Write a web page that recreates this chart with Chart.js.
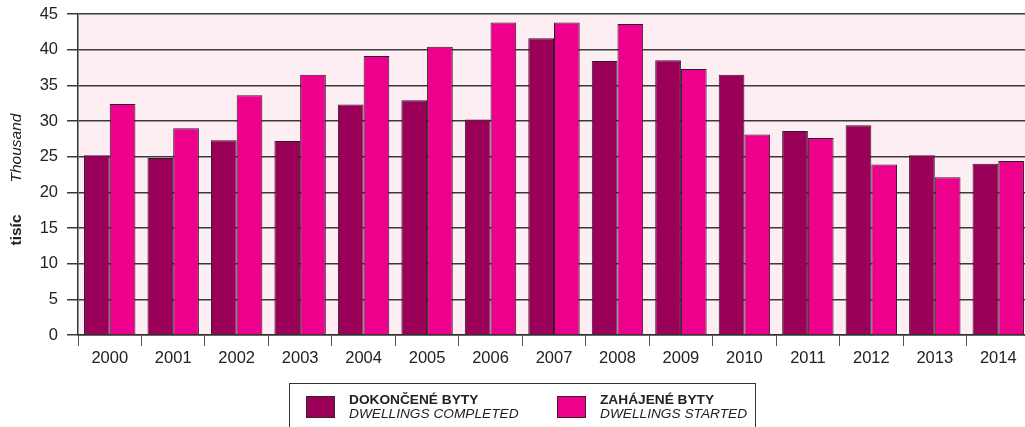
<!DOCTYPE html>
<html>
<head>
<meta charset="utf-8">
<script src="https://cdn.jsdelivr.net/npm/chart.js@4"></script>
<style>
    html, body { margin: 0; padding: 0; background: #fff; overflow: hidden; }
    #wrap { position: relative; width: 1030px; height: 427px; }
    #legend {
        position: absolute; left: 289px; top: 383px; width: 465px; height: 50px;
        border-left: 1.5px solid #333; border-top: 1.5px solid #333; border-right: 1.5px solid #333;
        font-family: "Liberation Sans", Arial, sans-serif; font-size: 13.7px; color: #222;
    }
    .item { position: absolute; top: 12px; }
    .sw { position: absolute; top: 0; width: 29px; height: 22px; border: 1px solid #3b2030; box-sizing: border-box; }
    .txt { position: absolute; left: 43px; top: -3px; white-space: nowrap; line-height: 14px; }
    .txt b { font-weight: bold; }
    .txt i { font-style: italic; }
</style>
</head>
<body>
<div id="wrap">
    <canvas id="myChart" width="1030" height="427"></canvas>
    <div id="legend"></div>
</div>
<script>
// data
var years = ['2000', '2001', '2002', '2003', '2004', '2005', '2006', '2007', '2008', '2009', '2010', '2011', '2012', '2013', '2014'];
var completed = [25.2, 24.8, 27.3, 27.2, 32.3, 32.9, 30.2, 41.6, 38.4, 38.5, 36.5, 28.6, 29.4, 25.2, 24.0];
var started = [32.4, 29.0, 33.6, 36.5, 39.1, 40.4, 43.8, 43.8, 43.6, 37.3, 28.1, 27.6, 23.9, 22.1, 24.4];
var seriesCz = ['DOKONČENÉ BYTY', 'ZAHÁJENÉ BYTY'];
var seriesEn = ['DWELLINGS COMPLETED', 'DWELLINGS STARTED'];
var seriesColors = ['#9b0058', '#ec008c'];
var yTicks = [0, 5, 10, 15, 20, 25, 30, 35, 40, 45];

var font = '"Liberation Sans", Arial, sans-serif';

// plot background + axis titles
const bgPlugin = {
    id: 'bgPlugin',
    beforeDraw(chart) {
        const ctx = chart.ctx;
        const a = chart.chartArea;
        ctx.save();
        ctx.fillStyle = '#fdeef4';
        ctx.fillRect(a.left, a.top, a.right - a.left, a.bottom - a.top);
        ctx.restore();
    },
    afterDraw(chart) {
        const ctx = chart.ctx;
        ctx.save();
        ctx.fillStyle = '#222';
        ctx.textAlign = 'center';
        ctx.textBaseline = 'middle';
        ctx.translate(17, 148);
        ctx.rotate(-Math.PI / 2);
        ctx.font = 'italic 15.5px ' + font;
        ctx.fillText('Thousand', 0, 0);
        ctx.restore();
        ctx.save();
        ctx.fillStyle = '#222';
        ctx.textAlign = 'center';
        ctx.textBaseline = 'middle';
        ctx.translate(17, 230);
        ctx.rotate(-Math.PI / 2);
        ctx.font = 'bold 15.5px ' + font;
        ctx.fillText('tisíc', 0, 0);
        ctx.restore();
    }
};

const ctx = document.getElementById('myChart').getContext('2d');
const myChart = new Chart(ctx, {
    type: 'bar',
    data: {
        labels: years,
        datasets: [{
            label: seriesCz[0],
            data: completed,
            backgroundColor: seriesColors[0],
            borderColor: '#2e1a24',
            borderWidth: 1
        }, {
            label: seriesCz[1],
            data: started,
            backgroundColor: seriesColors[1],
            borderColor: '#2e1a24',
            borderWidth: 1
        }]
    },
    options: {
        responsive: false,
        animation: false,
        layout: { padding: { left: 0, right: 0, top: 14, bottom: 60 } },
        datasets: { bar: { categoryPercentage: 0.81, barPercentage: 1.0 } },
        plugins: { legend: { display: false }, tooltip: { enabled: false } },
        scales: {
            x: {
                grid: { drawOnChartArea: false, drawTicks: true, tickLength: 11, color: '#555', lineWidth: 1 },
                border: { display: true, color: '#333', width: 1.5 },
                ticks: { color: '#222', font: { family: font, size: 16.5 }, padding: 3, maxRotation: 0 },
                afterFit(scale) { scale.height = 32; scale.paddingLeft = 0; scale.paddingRight = 0; }
            },
            y: {
                min: 0,
                max: 45,
                afterBuildTicks(scale) { scale.ticks = yTicks.map(v => ({ value: v })); },
                grid: { color: '#3a3a3a', lineWidth: 1.5, tickLength: 11 },
                border: { display: true, color: '#333', width: 1.5 },
                ticks: { color: '#222', font: { family: font, size: 16.5 }, padding: 9 },
                afterFit(scale) { scale.width = 78; scale.paddingTop = 0; scale.paddingBottom = 0; }
            }
        }
    },
    plugins: [bgPlugin]
});

// legend
var legendHtml = '';
var lefts = [16, 267];
for (var i = 0; i < seriesCz.length; i++) {
    legendHtml += '<div class="item" style="left:' + lefts[i] + 'px">';
    legendHtml += '<div class="sw" style="background:' + seriesColors[i] + '"></div>';
    legendHtml += '<div class="txt"><b>' + seriesCz[i] + '</b><br><i>' + seriesEn[i] + '</i></div>';
    legendHtml += '</div>';
}
document.getElementById('legend').innerHTML = legendHtml;
</script>
</body>
</html>
